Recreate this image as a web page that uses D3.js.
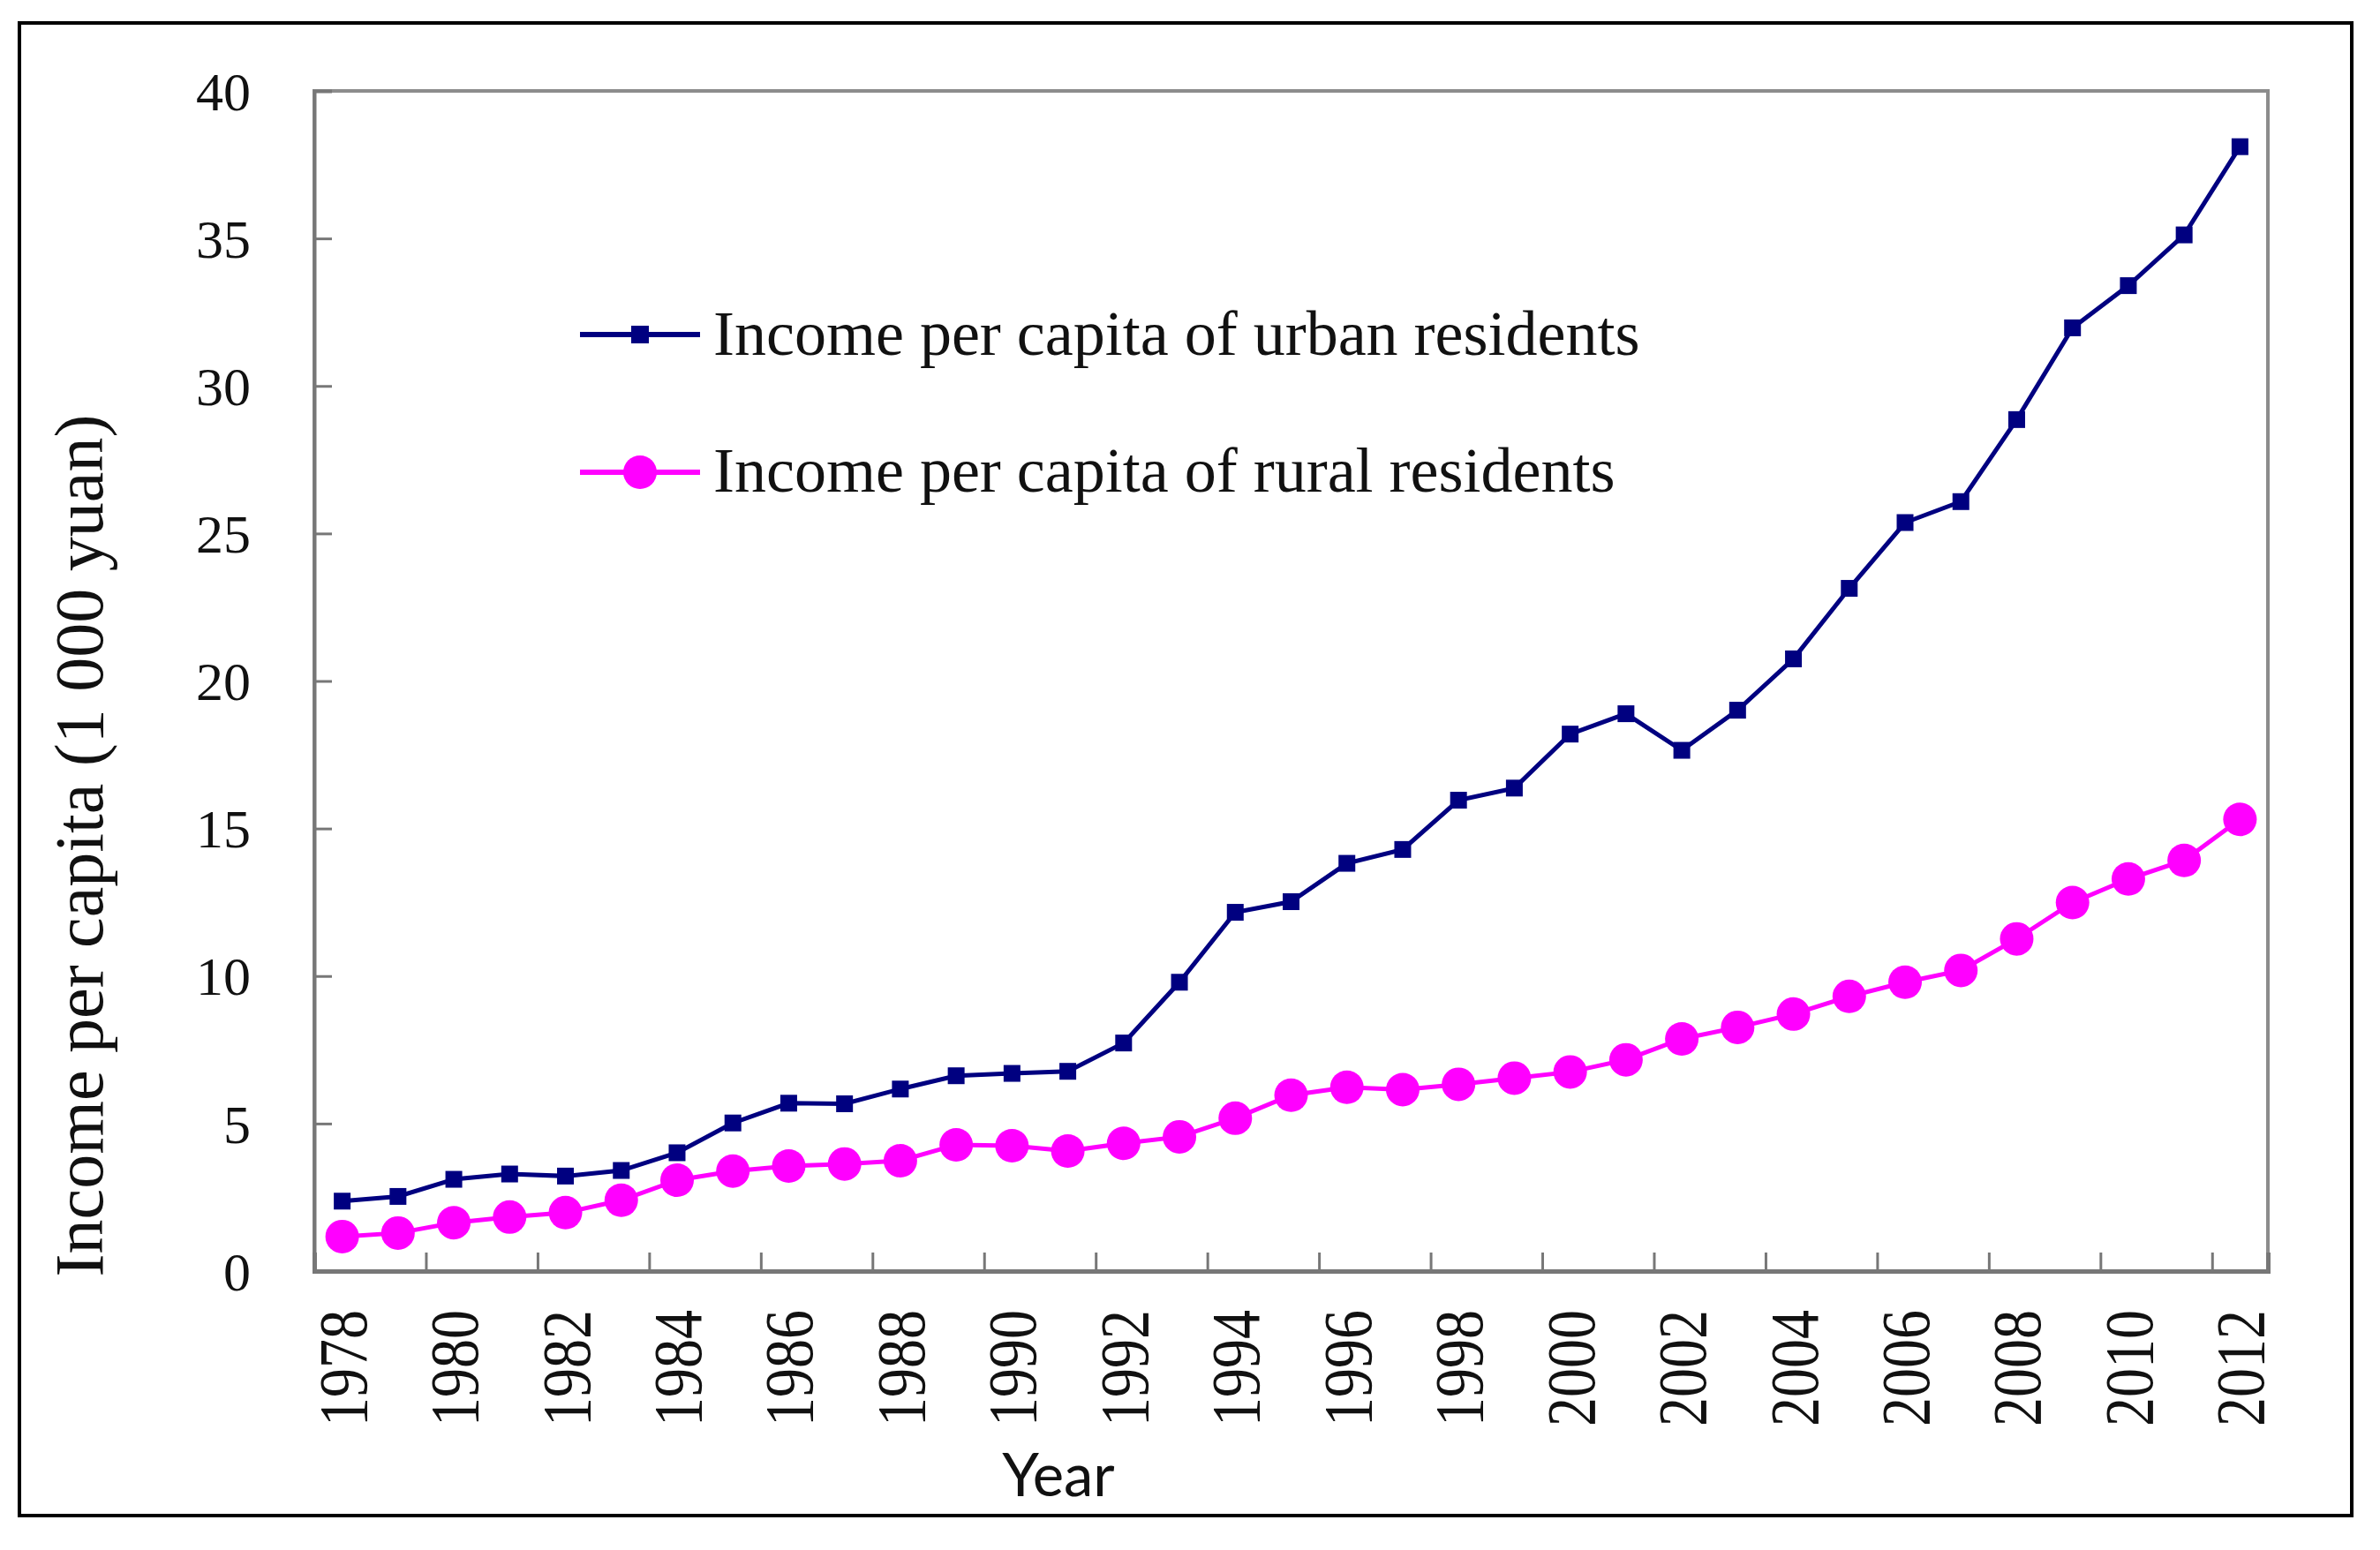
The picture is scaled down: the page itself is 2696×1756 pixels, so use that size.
<!DOCTYPE html>
<html>
<head>
<meta charset="utf-8">
<script src="https://cdn.jsdelivr.net/npm/d3@7"></script>
<style>
  html, body { margin: 0; padding: 0; background: #fff; }
  svg { display: block; }
</style>
</head>
<body>
<svg id="chart" width="2696" height="1756"></svg>
<script>
// ---- data ----
const years = [1978, 1979, 1980, 1981, 1982, 1983, 1984, 1985, 1986, 1987,
               1988, 1989, 1990, 1991, 1992, 1993, 1994, 1995, 1996, 1997,
               1998, 1999, 2000, 2001, 2002, 2003, 2004, 2005, 2006, 2007,
               2008, 2009, 2010, 2011, 2012];
const urban = [2.37, 2.53, 3.11, 3.29, 3.22, 3.41, 4.01, 5.02, 5.69, 5.67,
               6.17, 6.62, 6.70, 6.77, 7.73, 9.79, 12.16, 12.52, 13.82, 14.29,
               15.96, 16.37, 18.20, 18.89, 17.65, 19.01, 20.75, 23.14, 25.37, 26.08,
               28.86, 31.97, 33.40, 35.12, 38.11];
const rural = [1.17, 1.29, 1.64, 1.83, 1.98, 2.40, 3.08, 3.39, 3.56, 3.63,
               3.74, 4.28, 4.25, 4.07, 4.33, 4.55, 5.18, 5.96, 6.23, 6.15,
               6.33, 6.54, 6.75, 7.16, 7.87, 8.26, 8.71, 9.31, 9.79, 10.19,
               11.26, 12.49, 13.29, 13.92, 15.31];
const yTicks = [0, 5, 10, 15, 20, 25, 30, 35, 40];
const xLabelYears = [1978, 1980, 1982, 1984, 1986, 1988, 1990, 1992, 1994, 1996,
                     1998, 2000, 2002, 2004, 2006, 2008, 2010, 2012];
const seriesNames = ["Income per capita of urban residents", "Income per capita of rural residents"];
const yTitle = "Income per capita (1 000 yuan)";
const xTitle = "Year";

// ---- layout ----
const L = 356, R = 2569, T = 103, B = 1440;
const svg = d3.select("#chart");
const serif = "'Liberation Serif', 'Times New Roman', serif";

// outer border
svg.append("rect").attr("x", 22).attr("y", 26).attr("width", 2642).attr("height", 1691)
  .attr("fill", "#fff").attr("stroke", "#000").attr("stroke-width", 4);

const x = d3.scaleBand().domain(years).range([L, R]).padding(0);
const xb = d3.scaleLinear().domain([0, years.length]).range([L, R]); // category boundaries
const y = d3.scaleLinear().domain([0, 40]).range([B, T]);

// plot frame
svg.append("rect").attr("x", L).attr("y", T).attr("width", R - L).attr("height", B - T)
  .attr("fill", "none").attr("stroke", "#8c8c8c").attr("stroke-width", 4);

// y axis ticks (inward)
const yAxis = svg.append("g").attr("transform", `translate(${L},0)`)
  .call(d3.axisLeft(y).tickValues(yTicks).tickSize(-20).tickFormat(""));
yAxis.selectAll("path").attr("stroke", "#777").attr("stroke-width", 4);
yAxis.selectAll("line").attr("stroke", "#777").attr("stroke-width", 3);

svg.append("g").selectAll("text").data(yTicks).join("text")
  .attr("x", 284).attr("y", d => y(d)).attr("dy", "0.35em")
  .attr("text-anchor", "end").attr("font-family", serif).attr("font-size", 62)
  .attr("fill", "#111").text(d => d);

// x axis ticks at every second category boundary (inward)
const bTicks = d3.range(2, years.length, 2);
const xAxis = svg.append("g").attr("transform", `translate(0,${B})`)
  .call(d3.axisBottom(xb).tickValues(bTicks).tickSize(-21).tickFormat(""));
xAxis.selectAll("path").attr("stroke", "#777").attr("stroke-width", 5);
xAxis.selectAll("line").attr("stroke", "#777").attr("stroke-width", 3);

svg.append("g").selectAll("text").data(xLabelYears).join("text")
  .attr("transform", d => `translate(${x(d) + x.bandwidth() / 2},1484) rotate(-90) scale(1,1.17)`)
  .attr("dy", "0.35em").attr("text-anchor", "end")
  .attr("font-family", serif).attr("font-size", 66).attr("fill", "#111").text(d => d);

// axis titles
svg.append("text").attr("transform", "translate(116,958) rotate(-90)")
  .attr("text-anchor", "middle").attr("font-family", serif).attr("font-size", 78)
  .attr("fill", "#111").text(yTitle);
svg.append("text").attr("x", 1199).attr("y", 1695).attr("text-anchor", "middle")
  .attr("font-family", "Lato, 'Open Sans', sans-serif").attr("font-size", 67)
  .attr("fill", "#111").text(xTitle);

// series
const cx = i => x(years[i]) + x.bandwidth() / 2;
const line = vals => d3.line().x((d, i) => cx(i)).y(d => y(d))(vals);

svg.append("path").attr("d", line(rural)).attr("fill", "none")
  .attr("stroke", "#ff00ff").attr("stroke-width", 5);
svg.append("g").selectAll("circle").data(rural).join("circle")
  .attr("cx", (d, i) => cx(i)).attr("cy", d => y(d)).attr("r", 19).attr("fill", "#ff00ff");

svg.append("path").attr("d", line(urban)).attr("fill", "none")
  .attr("stroke", "#000080").attr("stroke-width", 5);
const sq = 19;
svg.append("g").selectAll("rect").data(urban).join("rect")
  .attr("x", (d, i) => cx(i) - sq / 2).attr("y", d => y(d) - sq / 2)
  .attr("width", sq).attr("height", sq).attr("fill", "#000080");

// legend
const leg = [
  { name: seriesNames[0], color: "#000080", ly: 379, ty: 402, marker: "square" },
  { name: seriesNames[1], color: "#ff00ff", ly: 535, ty: 557, marker: "circle" }
];
const lg = svg.append("g");
leg.forEach(d => {
  lg.append("line").attr("x1", 657).attr("x2", 793).attr("y1", d.ly).attr("y2", d.ly)
    .attr("stroke", d.color).attr("stroke-width", 6);
  if (d.marker === "square") {
    lg.append("rect").attr("x", 725 - 10).attr("y", d.ly - 10).attr("width", 20).attr("height", 20)
      .attr("fill", d.color);
  } else {
    lg.append("circle").attr("cx", 725).attr("cy", d.ly).attr("r", 19).attr("fill", d.color);
  }
  lg.append("text").attr("x", 808).attr("y", d.ty).attr("font-family", serif)
    .attr("font-size", 72).attr("fill", "#111").text(d.name);
});
</script>
</body>
</html>
